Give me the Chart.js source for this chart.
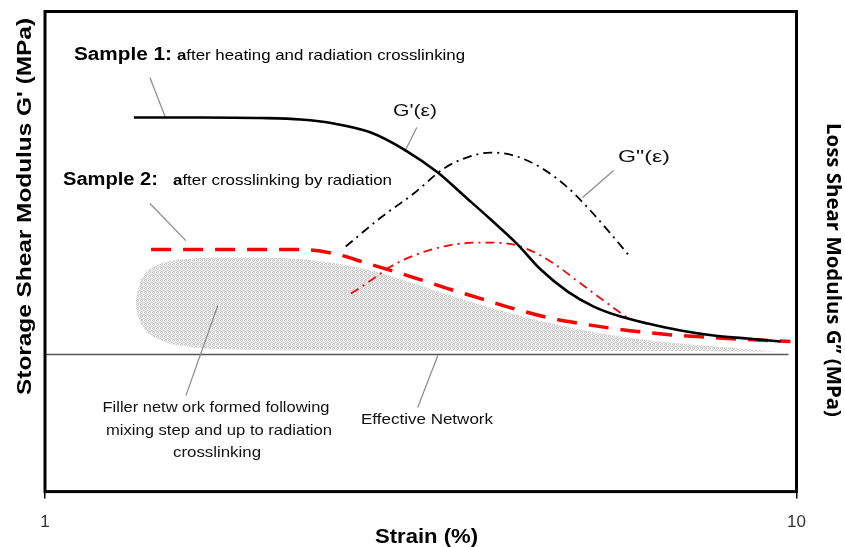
<!DOCTYPE html>
<html>
<head>
<meta charset="utf-8">
<script src="https://cdn.jsdelivr.net/npm/chart.js@4.4.1/dist/chart.umd.min.js"></script>
<style>
  html, body { margin: 0; padding: 0; background: #fff; }
  canvas { display: block; }
</style>
</head>
<body>
<canvas id="c" width="845" height="547"></canvas>
<script>
// ---------- data (strain %, arbitrary modulus units) ----------
const xTickValues = [1, 10];
const xTickLabels = ['1', '10'];

const s1StorageX = [1.313, 1.612, 1.938, 2.190, 2.423, 2.714, 3.021, 3.332, 3.608, 3.919, 4.256, 4.567, 4.961, 5.372, 5.834, 6.339, 7.011, 7.755, 8.607, 9.522];
const s1StorageY = [374, 374, 373.5, 372, 368, 359, 341, 319, 296, 272, 247, 222, 200, 185, 175, 168, 161, 156, 153, 150];

const s1LossX = [2.513, 2.798, 3.095, 3.394, 3.608, 3.919, 4.205, 4.567, 4.961, 5.273, 5.657, 6.017];
const s1LossY = [245, 274, 298, 323, 333, 339, 336, 324, 304, 284, 258, 234];

const s2StorageX = [1.384, 1.714, 2.190, 2.423, 2.689, 3.095, 3.436, 3.801, 4.205, 4.666, 5.162, 5.709, 6.339, 7.011, 7.755, 8.607, 9.817];
const s2StorageY = [242, 242, 242, 238, 228, 214, 203, 193, 183, 174, 168, 163, 159, 156, 154, 152, 150];

const s2LossX = [2.553, 2.689, 2.885, 3.095, 3.436, 3.801, 4.128, 4.430, 4.753, 5.162, 5.606, 5.978];
const s2LossY = [198, 209, 225, 236, 246, 249, 248, 241, 228, 208, 188, 173];

const fillerTopX = [1.321, 1.334, 1.362, 1.427, 1.564, 1.822, 2.124, 2.400, 2.714, 3.067, 3.467, 4.041, 4.856, 5.834, 7.011, 8.424, 9.38];
const fillerTopY = [191, 206, 219, 228, 233, 234, 233, 229, 221, 209, 196, 181, 166, 155, 148, 143, 140];
const fillerBottomX = [1.321, 1.329, 1.362, 1.427, 1.540, 1.768, 2.190, 9.38];
const fillerBottomY = [191, 176, 161, 151, 145, 142, 141, 140];

const effectiveX = [1, 9.758];
const effectiveY = [137, 137];

const leaderS1X = [1.379, 1.448], leaderS1Y = [414, 373];
const leaderGpX = [3.124, 3.011], leaderGpY = [364, 340];
const leaderGppX = [5.709, 5.193], leaderGppY = [321, 294];
const leaderS2X = [1.379, 1.540], leaderS2Y = [288, 251];
const leaderFillX = [1.698, 1.540], leaderFillY = [186, 96];
const leaderEffX = [3.332, 3.133], leaderEffY = [136, 84];

// ---------- helpers ----------
const pts = (xs, ys) => xs.map((x, i) => ({ x: x, y: ys[i] }));

function makePattern() {
  const p = document.createElement('canvas');
  p.width = 4; p.height = 4;
  const g = p.getContext('2d');
  g.fillStyle = '#ececec'; g.fillRect(0, 0, 4, 4);
  g.fillStyle = '#c9c9c9';
  [[0,0],[2,0],[1,1],[3,2],[0,2],[2,3],[1,3]].forEach(d => g.fillRect(d[0], d[1], 1, 1));
  g.fillStyle = '#f8f8f8';
  [[3,0],[1,2],[3,3]].forEach(d => g.fillRect(d[0], d[1], 1, 1));
  return document.getElementById('c').getContext('2d').createPattern(p, 'repeat');
}

function leader(xs, ys) {
  return {
    data: pts(xs, ys), borderColor: '#8a8a8a', borderWidth: 1.2,
    pointRadius: 0, fill: false, tension: 0, order: 1
  };
}

const SANS = '"Liberation Sans", Arial, sans-serif';

// draw parts [{t, font}] starting at x (or centered), scaled to width
function fitText(ctx, parts, x, y, width, align) {
  let total = 0;
  parts.forEach(p => { ctx.font = p.font; p.w = ctx.measureText(p.t).width; total += p.w; });
  const s = width / total;
  ctx.save();
  ctx.translate(align === 'center' ? x - width / 2 : x, y);
  ctx.scale(s, 1);
  let cx = 0;
  ctx.textBaseline = 'alphabetic';
  ctx.textAlign = 'left';
  parts.forEach(p => { ctx.font = p.font; ctx.fillText(p.t, cx, 0); cx += p.w; });
  ctx.restore();
}

const decorPlugin = {
  id: 'decor',
  afterDraw(chart) {
    const ctx = chart.ctx;
    const a = chart.chartArea;
    ctx.save();
    // frame
    ctx.strokeStyle = '#000';
    ctx.lineWidth = 3;
    ctx.strokeRect(a.left, a.top, a.right - a.left, a.bottom - a.top);

    ctx.fillStyle = '#000';
    // annotations
    fitText(ctx, [{ t: 'Sample 1:', font: 'bold 18px ' + SANS }], 74, 60, 98);
    fitText(ctx, [{ t: 'a', font: 'bold 15px ' + SANS }, { t: 'fter heating and radiation crosslinking', font: '15px ' + SANS }], 177, 60, 288);
    fitText(ctx, [{ t: 'Sample 2:', font: 'bold 18px ' + SANS }], 63, 185, 95);
    fitText(ctx, [{ t: 'a', font: 'bold 15px ' + SANS }, { t: 'fter crosslinking by radiation', font: '15px ' + SANS }], 173, 185, 219);

    ctx.fillStyle = '#111';
    fitText(ctx, [{ t: "G'(ε)", font: '17px ' + SANS }], 393, 116, 44);
    fitText(ctx, [{ t: 'G"(ε)', font: '17px ' + SANS }], 618, 162, 52);

    fitText(ctx, [{ t: 'Filler netw ork formed following', font: '15px ' + SANS }], 216, 412, 227, 'center');
    fitText(ctx, [{ t: 'mixing step and up to radiation', font: '15px ' + SANS }], 219, 435, 226, 'center');
    fitText(ctx, [{ t: 'crosslinking', font: '15px ' + SANS }], 217, 457, 88, 'center');
    fitText(ctx, [{ t: 'Effective Network', font: '15px ' + SANS }], 361, 424, 132);

    // axis titles
    ctx.fillStyle = '#000';
    fitText(ctx, [{ t: 'Strain (%)', font: 'bold 21px ' + SANS }], 375, 543, 103);

    ctx.save();
    ctx.translate(31, 206.5);
    ctx.rotate(-Math.PI / 2);
    fitText(ctx, [{ t: "Storage Shear Modulus G' (MPa)", font: 'bold 21px ' + SANS }], 0, 0, 377, 'center');
    ctx.restore();

    ctx.save();
    ctx.translate(827, 270);
    ctx.rotate(Math.PI / 2);
    fitText(ctx, [{ t: 'Loss Shear Modulus G’’ (MPa)', font: 'bold 19px "Open Sans", sans-serif' }], 0, 0, 294, 'center');
    ctx.restore();

    ctx.restore();
  }
};

const pattern = makePattern();

new Chart(document.getElementById('c'), {
  type: 'line',
  data: {
    datasets: [
      { label: "Sample 1 G'", data: pts(s1StorageX, s1StorageY), borderColor: '#000', borderWidth: 2.6,
        pointRadius: 0, fill: false, cubicInterpolationMode: 'monotone', order: 0 },
      { label: 'Sample 2 G\'', data: pts(s2StorageX, s2StorageY), borderColor: '#ff0000', borderWidth: 3.5,
        borderDash: [20, 12], pointRadius: 0, fill: false, cubicInterpolationMode: 'monotone', order: 0 },
      { label: 'Sample 1 G"', data: pts(s1LossX, s1LossY), borderColor: '#000', borderWidth: 1.8,
        borderDash: [9, 5, 2, 5], pointRadius: 0, fill: false, cubicInterpolationMode: 'monotone', order: 2 },
      { label: 'Sample 2 G"', data: pts(s2LossX, s2LossY), borderColor: '#ff0000', borderWidth: 1.8,
        borderDash: [9, 5, 2, 5], pointRadius: 0, fill: false, cubicInterpolationMode: 'monotone', order: 2 },
      { label: 'Effective network', data: pts(effectiveX, effectiveY), borderColor: '#555', borderWidth: 1.6,
        pointRadius: 0, fill: false, tension: 0, order: 3 },
      leader(leaderS1X, leaderS1Y),
      leader(leaderGpX, leaderGpY),
      leader(leaderGppX, leaderGppY),
      leader(leaderS2X, leaderS2Y),
      leader(leaderFillX, leaderFillY),
      leader(leaderEffX, leaderEffY),
      { label: 'Filler network', data: pts(fillerTopX, fillerTopY), borderWidth: 0, borderColor: 'rgba(0,0,0,0)',
        backgroundColor: pattern, pointRadius: 0, fill: '+1', tension: 0.4, order: 10 },
      { label: 'Filler bottom', data: pts(fillerBottomX, fillerBottomY), borderWidth: 0, borderColor: 'rgba(0,0,0,0)',
        pointRadius: 0, fill: false, tension: 0.4, order: 10 }
    ]
  },
  options: {
    responsive: false,
    animation: false,
    devicePixelRatio: 1,
    layout: { padding: { left: 45, right: 48.5, top: 11.5, bottom: 0 } },
    plugins: { legend: { display: false }, tooltip: { enabled: false }, title: { display: false } },
    scales: {
      x: {
        type: 'logarithmic', min: 1, max: 10,
        afterBuildTicks: (s) => { s.ticks = xTickValues.map(v => ({ value: v })); },
        ticks: {
          autoSkip: false, maxRotation: 0, padding: 14, color: '#333',
          font: { family: SANS, size: 17 },
          callback: (v) => { const i = xTickValues.indexOf(v); return i >= 0 ? xTickLabels[i] : ''; }
        },
        grid: { drawOnChartArea: false, drawTicks: true, tickLength: 7, color: '#000', lineWidth: 1.5 },
        border: { display: false }
      },
      y: { type: 'linear', min: 0, max: 480, display: false }
    }
  },
  plugins: [decorPlugin]
});
</script>
</body>
</html>
